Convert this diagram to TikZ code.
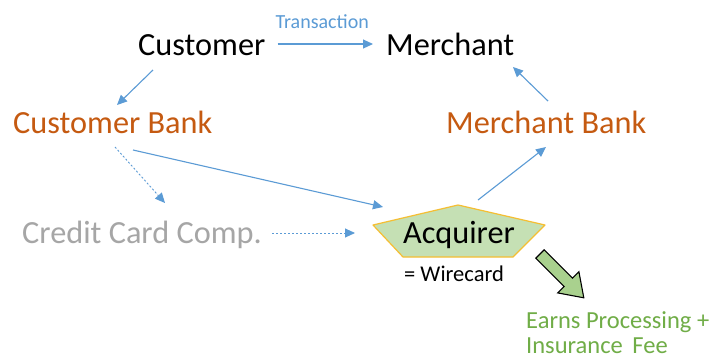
\documentclass[tikz,border=0pt]{standalone}
\usepackage{fontspec}
\setmainfont{Carlito}
\usetikzlibrary{arrows.meta}
\definecolor{bl}{RGB}{91,155,213}
\definecolor{orng}{RGB}{197,90,17}
\definecolor{gry}{RGB}{166,166,166}
\definecolor{lgreen}{RGB}{197,224,180}
\definecolor{mgreen}{RGB}{169,209,142}
\definecolor{dgreen}{RGB}{112,173,71}
\definecolor{gold}{RGB}{245,190,50}
\begin{document}
\begin{tikzpicture}[x=1pt,y=-1pt,
  big/.style={font=\fontsize{32.3}{40}\selectfont, inner sep=0pt, anchor=base west},
  mid/.style={font=\fontsize{20}{24}\selectfont, inner sep=0pt},
  note/.style={font=\fontsize{24.5}{28}\selectfont, inner sep=0pt, anchor=base west, text=dgreen},
  conn/.style={draw=bl, line width=1.1pt, -{Triangle[length=10pt,width=9pt]}},
  dconn/.style={conn, line width=0.9pt, dash pattern=on 2pt off 2pt}]
\useasboundingbox (0,0) rectangle (715,359);
\fill[white] (0,0) rectangle (715,359);
% nodes
\node[big] (cust) at (138,55) {Customer};
\node[big] (merch) at (386,55) {Merchant};
\node[big,text=orng] (cbank) at (13,133) {Customer Bank};
\node[big,text=orng] (mbank) at (446,133) {Merchant Bank};
\node[big,text=gry] (cc) at (22,243) {Credit Card Comp.};
% acquirer pentagon
\coordinate (pL) at (373,225);
\coordinate (pT) at (458,205);
\coordinate (pR) at (545,225);
\coordinate (pBR) at (513,257);
\coordinate (pBL) at (403,257);
\draw[fill=lgreen, draw=gold, line width=1.2pt, line join=round] (pL) -- (pT) -- (pR) -- (pBR) -- (pBL) -- cycle;
\node[big, anchor=base] (acq) at (459,243) {Acquirer};
\node[font=\fontsize{22.5}{26}\selectfont, inner sep=0pt, anchor=base west] (wire) at (404,281) {= Wirecard};
\node[note] (earn) at (526,328) {Earns Processing +};
\node[note] (ins) at (526,353) {Insurance\hspace{4pt} Fee};
% connectors
\draw[conn] ([shift={(12,-11)}]cust.base east) -- ([shift={(-13,-11)}]merch.base west)
  node[midway, anchor=base, yshift=16pt, xshift=-3pt, mid, text=bl] (tr) {Transaction};
\draw[conn] ([shift={(15,15)}]cust.base west) -- ([shift={(104,-28)}]cbank.base west);
\draw[conn] ([shift={(102,-32)}]mbank.base west) -- ([shift={(127,12)}]merch.base west);
\draw[conn] ([shift={(120,17)}]cbank.base west) -- ([shift={(10,-18)}]pL);
\draw[dconn] ([shift={(102,14)}]cbank.base west) -- ([shift={(143,-40)}]cc.base west);
\draw[dconn] ([shift={(250,-10)}]cc.base west) -- ([shift={(-18,8)}]pL);
\draw[conn] ([shift={(20,-5)}]pT) -- ([shift={(100,14)}]mbank.base west);
% big green arrow
\draw[fill=mgreen, draw=black, line width=1.1pt, line join=miter]
  (544.2,249.8) -- (572.5,278.1) -- (578.9,271.7) -- (583.8,297.8)
  -- (557.7,292.9) -- (564.1,286.5) -- (535.8,258.2) -- cycle;
\end{tikzpicture}
\end{document}
